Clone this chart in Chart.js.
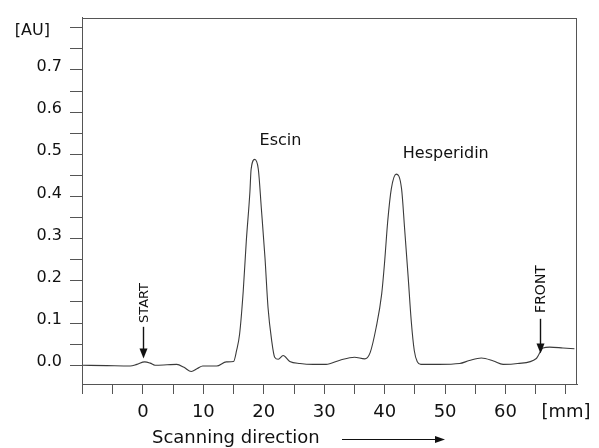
<!DOCTYPE html>
<html>
<head>
<meta charset="utf-8">
<script src="https://cdn.jsdelivr.net/npm/chart.js@4/dist/chart.umd.min.js"></script>
<style>
html,body{margin:0;padding:0;background:#fff;}
#wrap{width:599px;height:448px;position:relative;}
</style>
</head>
<body>
<div id="wrap"><canvas id="c" width="599" height="448"></canvas></div>
<script>
// Scan position (mm) and absorbance (AU)
const positionMm = [-10.0,-6.0,-2.1,-1.0,0.3,1.2,2.0,4.0,5.6,6.8,8.0,9.0,9.9,12.2,13.8,15.0,15.5,16.0,16.6,17.1,17.7,17.9,18.5,19.1,19.6,20.2,20.7,21.3,21.8,22.4,23.2,24.3,26.0,28.2,30.3,32.6,35.0,36.7,37.6,38.6,39.5,40.0,40.5,41.1,41.9,42.8,43.3,43.9,44.4,44.9,45.4,46.0,49.0,52.4,54.0,56.0,58.0,59.6,62.0,65.1,66.2,67.3,69.5,71.4];
const absorbance = [0.000,-0.001,-0.002,0.002,0.008,0.005,0.000,0.001,0.002,-0.005,-0.015,-0.008,-0.002,-0.002,0.008,0.009,0.035,0.074,0.176,0.293,0.410,0.464,0.488,0.464,0.371,0.254,0.137,0.059,0.019,0.014,0.023,0.009,0.004,0.002,0.002,0.012,0.019,0.015,0.030,0.090,0.168,0.246,0.340,0.418,0.453,0.418,0.324,0.207,0.105,0.035,0.008,0.002,0.002,0.004,0.011,0.017,0.010,0.002,0.004,0.016,0.041,0.043,0.041,0.039];
const yTickLabels = ['0.0','0.1','0.2','0.3','0.4','0.5','0.6','0.7'];
const xTickLabels = ['0','10','20','30','40','50','60'];
const yUnit = '[AU]';
const xUnit = '[mm]';
const peakNames = ['Escin','Hesperidin'];
const markerNames = ['START','FRONT'];
const axisTitle = 'Scanning direction';

const points = positionMm.map((x,i)=>({x:x,y:absorbance[i]}));
const INK = '#111';
const AX = '#555';

function arrowDown(ctx, x, y0, y1){
  ctx.beginPath(); ctx.moveTo(x, y0); ctx.lineTo(x, y1-8); ctx.stroke();
  ctx.beginPath(); ctx.moveTo(x-4, y1-10); ctx.lineTo(x+4, y1-10); ctx.lineTo(x, y1); ctx.closePath(); ctx.fill();
}

const deco = {
  id:'deco',
  afterDraw(chart){
    const ctx = chart.ctx, a = chart.chartArea;
    const xs = chart.scales.x, ys = chart.scales.y;
    ctx.save();
    ctx.strokeStyle = AX; ctx.lineWidth = 1;
    ctx.strokeRect(Math.round(a.left)+0.5, Math.round(a.top)+0.5, Math.round(a.right-a.left)-1, Math.round(a.bottom-a.top));
    ctx.fillStyle = INK; ctx.strokeStyle = INK;
    // unit label on y axis
    ctx.font = '16px "DejaVu Sans"';
    ctx.textAlign = 'right'; ctx.textBaseline = 'middle';
    ctx.fillText(yUnit, a.left-32, ys.getPixelForValue(0.8)+3);
    // peak names
    ctx.textAlign = 'left'; ctx.textBaseline = 'alphabetic';
    ctx.fillText(peakNames[0], xs.getPixelForValue(19.3), ys.getPixelForValue(0.522));
    ctx.fillText(peakNames[1], xs.getPixelForValue(43.0), ys.getPixelForValue(0.492));
    // START / FRONT markers
    ctx.lineWidth = 1.4;
    const marks = [[0, 0.100, 0.091, 0.016, 13], [65.7, 0.124, 0.110, 0.028, 14]];
    marks.forEach((m,i)=>{
      const px = Math.round(xs.getPixelForValue(m[0]))+0.5;
      ctx.save();
      ctx.translate(px+1, ys.getPixelForValue(m[1]));
      ctx.rotate(-Math.PI/2);
      ctx.font = m[4]+'px "DejaVu Sans"';
      ctx.textAlign='left'; ctx.textBaseline='middle';
      ctx.fillText(markerNames[i], 0, 0);
      ctx.restore();
      arrowDown(ctx, px, ys.getPixelForValue(m[2]), ys.getPixelForValue(m[3]));
    });
    // axis title with arrow
    ctx.font = '18px "DejaVu Sans"';
    ctx.textAlign='left'; ctx.textBaseline='alphabetic';
    ctx.fillText(axisTitle, a.left+70, 443);
    ctx.lineWidth = 1;
    const ay = 439.5, ax0 = a.left+260, ax1 = a.left+363;
    ctx.beginPath(); ctx.moveTo(ax0, ay); ctx.lineTo(ax1-8, ay); ctx.stroke();
    ctx.beginPath(); ctx.moveTo(ax1-10, ay-3.5); ctx.lineTo(ax1, ay); ctx.lineTo(ax1-10, ay+3.5); ctx.closePath(); ctx.fill();
    ctx.restore();
  }
};

new Chart(document.getElementById('c'), {
  type:'line',
  data:{datasets:[{data:points, borderColor:'#3a3a3a', borderWidth:1.1, pointRadius:0, fill:false, cubicInterpolationMode:'monotone'}]},
  options:{
    responsive:false, animation:false, devicePixelRatio:1,
    layout:{padding:{left:0,top:13,right:21,bottom:0}},
    plugins:{legend:{display:false}, tooltip:{enabled:false}},
    scales:{
      x:{type:'linear', min:-10.08, max:71.9,
        grid:{drawOnChartArea:false, tickLength:10, color:AX, tickColor:AX},
        border:{color:AX},
        ticks:{stepSize:5, includeBounds:false, autoSkip:false, maxRotation:0, padding:8, color:INK,
          font:{family:'"DejaVu Sans"', size:18},
          callback:(v)=>{ if (Math.abs(v-70)<1e-6) return xUnit; const s = String(Math.round(v)); return xTickLabels.includes(s) && Math.abs(v-Math.round(v))<1e-6 ? s : ''; }},
        afterFit:(s)=>{ s.height = 64; }
      },
      y:{type:'linear', min:-0.0445, max:0.824,
        grid:{drawOnChartArea:false, tickLength:12, color:AX, tickColor:AX},
        border:{color:AX},
        ticks:{stepSize:0.05, includeBounds:false, autoSkip:false, padding:8, labelOffset:-3, color:INK,
          font:{family:'"DejaVu Sans"', size:16},
          callback:(v)=>{ const k = Math.round(v*100); return (k%10===0 && k/10 < yTickLabels.length && k>=0) ? yTickLabels[k/10] : ''; }},
        afterFit:(s)=>{ s.width = 82; }
      }
    }
  },
  plugins:[deco]
});
</script>
</body>
</html>
